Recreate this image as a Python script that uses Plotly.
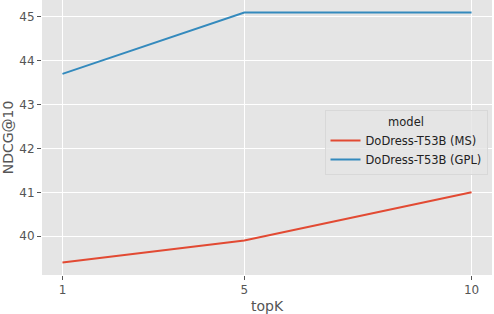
import plotly.graph_objects as go

topk = [1, 5, 10]
ms_values = [39.4, 39.9, 41.0]
gpl_values = [43.7, 45.1, 45.1]
series_names = ["DoDress-T53B (MS)", "DoDress-T53B (GPL)"]
y_ticks = [40, 41, 42, 43, 44, 45]

fig = go.Figure()
fig.add_trace(go.Scatter(x=topk, y=ms_values, mode="lines", name=series_names[0],
                         line=dict(color="#E24A33", width=2)))
fig.add_trace(go.Scatter(x=topk, y=gpl_values, mode="lines", name=series_names[1],
                         line=dict(color="#348ABD", width=2)))

font = "DejaVu Sans, sans-serif"
fig.update_layout(
    width=494, height=314,
    margin=dict(l=42, r=2, t=0, b=39),
    paper_bgcolor="white",
    plot_bgcolor="#E5E5E5",
    font=dict(family=font, color="#555555", size=11),
    showlegend=True,
    legend=dict(
        x=0.99, y=0.6, xanchor="right", yanchor="top",
        bgcolor="rgba(229,229,229,0.8)", bordercolor="#D8D8D8", borderwidth=1,
        font=dict(family=font, size=11.5, color="#222222"),
        title=dict(text="model", side="top center", font=dict(family=font, size=11.5, color="#222222")),
        tracegroupgap=0, itemwidth=30,
    ),
)
fig.update_xaxes(
    range=[0.55, 10.45], tickvals=topk, ticktext=[str(v) for v in topk],
    showgrid=True, gridcolor="white", gridwidth=1, zeroline=False,
    ticks="outside", ticklen=4, tickcolor="#555555", tickwidth=1,
    tickfont=dict(size=12, color="#555555"),
    title=dict(text="topK", font=dict(size=14, color="#555555"), standoff=4),
    showline=False,
)
fig.update_yaxes(
    range=[39.115, 45.385], tickvals=y_ticks,
    showgrid=True, gridcolor="white", gridwidth=1, zeroline=False,
    ticks="outside", ticklen=4, tickcolor="#555555", tickwidth=1,
    tickfont=dict(size=12, color="#555555"),
    title=dict(text="NDCG@10", font=dict(size=14, color="#555555"), standoff=4),
    showline=False,
)

fig.write_html("out.html", config={"displayModeBar": False},
               post_script="document.body.style.margin='0';")
